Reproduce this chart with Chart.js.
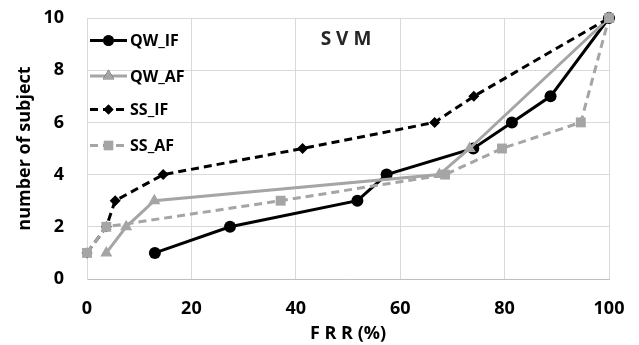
<!DOCTYPE html>
<html>
<head>
<meta charset="utf-8">
<script src="https://cdn.jsdelivr.net/npm/chart.js@4.4.0/dist/chart.umd.min.js"></script>
<style>
  html, body { margin: 0; padding: 0; background: #fff; }
  #wrap { width: 639px; height: 345px; }
</style>
</head>
<body>
<div id="wrap"><canvas id="grafico" width="639" height="345"></canvas></div>
<script>
// dados (x = FRR %, y = numero de sujeitos)
const seriesNames = ['QW_IF', 'QW_AF', 'SS_IF', 'SS_AF'];
const qwIfX = [13, 27.4, 51.8, 57.4, 74, 81.4, 88.8, 100];
const qwIfY = [1, 2, 3, 4, 5, 6, 7, 10];
const qwAfX = [3.7, 7.5, 12.9, 67.5, 73.3, 100];
const qwAfY = [1, 2, 3, 4, 5, 10];
const ssIfX = [0, 3.7, 5.4, 14.6, 41.3, 66.6, 74.1, 100];
const ssIfY = [1, 2, 3, 4, 5, 6, 7, 10];
const ssAfX = [0, 3.7, 37.1, 68.6, 79.5, 94.6, 100];
const ssAfY = [1, 2, 3, 4, 5, 6, 10];
const xTicks = [0, 20, 40, 60, 80, 100];
const yTicks = [0, 2, 4, 6, 8, 10];

const FONTE = '"Open Sans", "Liberation Sans", sans-serif';
const PRETO = '#000000';
const CINZA = '#a5a5a5';

function pares(xs, ys) {
    return xs.map((x, i) => ({ x: x, y: ys[i] }));
}

// legenda desenhada dentro da area do grafico
const legendaInterna = {
    id: 'legendaInterna',
    afterDraw(chart) {
        const ctx = chart.ctx;
        const linhas = [40.5, 76, 109.5, 145.5];
        ctx.save();
        chart.data.datasets.forEach((ds, i) => {
            const y = linhas[i];
            ctx.strokeStyle = ds.borderColor;
            ctx.lineWidth = ds.borderWidth;
            ctx.setLineDash(ds.borderDash || []);
            ctx.beginPath();
            ctx.moveTo(90, y);
            ctx.lineTo(127, y);
            ctx.stroke();
            ctx.setLineDash([]);
            Chart.helpers.drawPoint(ctx, {
                pointStyle: ds.pointStyle,
                radius: ds.pointRadius - 0.5,
                borderWidth: 0,
                rotation: 0
            }, 108.5, y);
            ctx.fillStyle = ds.backgroundColor;
            ctx.fill();
            ctx.fillStyle = '#000';
            ctx.font = 'bold 16px ' + FONTE;
            ctx.textAlign = 'left';
            ctx.textBaseline = 'middle';
            ctx.fillText(ds.label, 130, y + 1);
        });
        // titulo interno
        ctx.fillStyle = '#262626';
        ctx.font = 'bold 19px ' + FONTE;
        ctx.textAlign = 'center';
        ctx.textBaseline = 'middle';
        ctx.fillText('S V M', 346, 40);
        ctx.restore();
    }
};

function criarGrafico() {
    const ctx = document.getElementById('grafico').getContext('2d');
    const conjuntos = [
        { label: seriesNames[0], data: pares(qwIfX, qwIfY), borderColor: PRETO, backgroundColor: PRETO,
          pointStyle: 'circle', pointRadius: 6, borderDash: [], order: 4 },
        { label: seriesNames[1], data: pares(qwAfX, qwAfY), borderColor: CINZA, backgroundColor: CINZA,
          pointStyle: 'triangle', pointRadius: 7, borderDash: [], order: 3 },
        { label: seriesNames[2], data: pares(ssIfX, ssIfY), borderColor: PRETO, backgroundColor: PRETO,
          pointStyle: 'rectRot', pointRadius: 5.5, borderDash: [8, 5], order: 2 },
        { label: seriesNames[3], data: pares(ssAfX, ssAfY), borderColor: CINZA, backgroundColor: CINZA,
          pointStyle: 'rect', pointRadius: 7, borderDash: [8, 5], order: 1 }
    ];
    conjuntos.forEach(c => {
        c.borderWidth = 3;
        c.pointBorderWidth = 0;
        c.pointBackgroundColor = c.backgroundColor;
        c.pointHoverRadius = c.pointRadius;
        c.tension = 0;
        c.showLine = true;
        c.fill = false;
        c.clip = false; // marcadores nas bordas aparecem inteiros
    });

    new Chart(ctx, {
        type: 'scatter',
        data: { datasets: conjuntos },
        options: {
            responsive: false,
            animation: false,
            devicePixelRatio: 1,
            layout: { padding: { left: 0, right: 30, top: 18, bottom: 0 } },
            plugins: {
                legend: { display: false },
                tooltip: { enabled: false }
            },
            scales: {
                x: {
                    type: 'linear',
                    min: 0, max: 100,
                    afterBuildTicks: s => { s.ticks = xTicks.map(v => ({ value: v })); },
                    afterFit: s => { s.height = 66; s.paddingLeft = 0; s.paddingRight = 0; },
                    grid: { color: '#d9d9d9', lineWidth: 1, drawTicks: false },
                    border: { color: '#bfbfbf', width: 1 },
                    ticks: { color: '#000', padding: 19, font: { family: FONTE, size: 18, weight: 'bold' } },
                    title: { display: true, text: 'F R R (%)', color: '#000', padding: { top: 0, bottom: 0 },
                             font: { family: FONTE, size: 18, weight: 'bold' } }
                },
                y: {
                    type: 'linear',
                    min: 0, max: 10,
                    afterBuildTicks: s => { s.ticks = yTicks.map(v => ({ value: v })); },
                    afterFit: s => { s.width = 87; s.paddingTop = 0; s.paddingBottom = 0; },
                    grid: { color: '#d9d9d9', lineWidth: 1, drawTicks: false },
                    border: { color: '#d9d9d9', width: 1 },
                    ticks: { color: '#000', padding: 23, font: { family: FONTE, size: 18, weight: 'bold' } },
                    title: { display: true, text: 'number of subject', color: '#000', padding: { top: 14, bottom: 0 },
                             font: { family: FONTE, size: 18, weight: 'bold' } }
                }
            }
        },
        plugins: [legendaInterna]
    });
}

window.onload = criarGrafico;
</script>
</body>
</html>
